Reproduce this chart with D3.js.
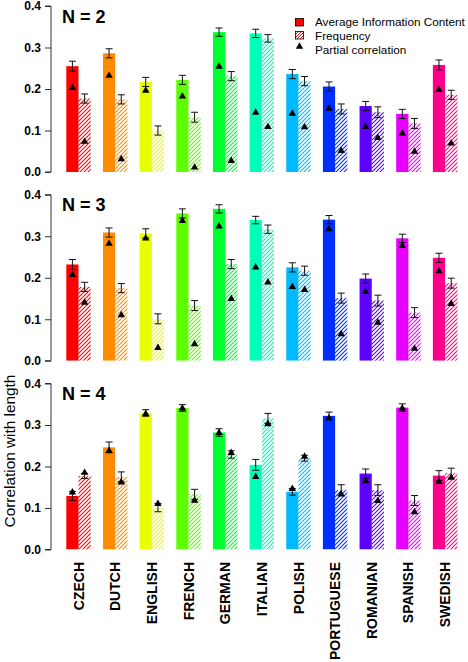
<!DOCTYPE html>
<html><head><meta charset="utf-8">
<script src="https://cdn.jsdelivr.net/npm/d3@7"></script>
<style>body{margin:0;background:#fff}svg{display:block}</style>
</head><body>
<script>
const languages = ["CZECH","DUTCH","ENGLISH","FRENCH","GERMAN","ITALIAN","POLISH","PORTUGUESE","ROMANIAN","SPANISH","SWEDISH"];
const colors = ["#FF0000","#FF8B00","#E8FF00","#5DFF00","#00FF2E","#00FFB9","#00B9FF","#002EFF","#5D00FF","#E800FF","#FF008B"];
const panelTitles = ["N = 2","N = 3","N = 4"];
const yTicks = [0, 0.1, 0.2, 0.3, 0.4];
const legendLabels = ["Average Information Content","Frequency","Partial correlation"];

// N = 2
const aic2      = [0.255,0.286,0.217,0.222,0.337,0.334,0.236,0.206,0.159,0.140,0.258];
const aicErr2   = [0.012,0.011,0.011,0.011,0.010,0.010,0.011,0.011,0.011,0.011,0.012];
const aicPart2  = [0.203,0.232,0.196,0.182,0.254,0.143,0.141,0.153,0.109,0.093,0.198];
const freq2     = [0.177,0.175,0.100,0.132,0.231,0.322,0.219,0.152,0.144,0.117,0.186];
const freqErr2  = [0.011,0.011,0.011,0.012,0.011,0.009,0.011,0.012,0.013,0.012,0.011];
const freqPart2 = [0.073,0.031,-0.010,0.011,0.027,0.109,0.108,0.051,0.082,0.049,0.069];
// N = 3
const aic3      = [0.232,0.309,0.307,0.355,0.366,0.339,0.225,0.340,0.198,0.295,0.248];
const aicErr3   = [0.012,0.011,0.011,0.011,0.010,0.009,0.011,0.010,0.011,0.010,0.011];
const aicPart3  = [0.207,0.282,0.295,0.337,0.324,0.225,0.178,0.317,0.166,0.277,0.216];
const freq3     = [0.178,0.175,0.101,0.133,0.233,0.317,0.217,0.151,0.145,0.116,0.187];
const freqErr3  = [0.011,0.011,0.012,0.012,0.011,0.010,0.011,0.012,0.013,0.012,0.012];
const freqPart3 = [0.140,0.110,0.031,0.040,0.149,0.189,0.171,0.064,0.092,0.029,0.137];
// N = 4
const aic4      = [0.129,0.246,0.329,0.341,0.282,0.204,0.139,0.322,0.183,0.342,0.178];
const aicErr4   = [0.011,0.013,0.008,0.008,0.009,0.013,0.008,0.009,0.011,0.009,0.012];
const aicPart4  = [0.138,0.238,0.327,0.340,0.281,0.175,0.146,0.316,0.165,0.340,0.163];
const freq4     = [0.177,0.175,0.101,0.133,0.229,0.316,0.220,0.143,0.143,0.118,0.184];
const freqErr4  = [0.006,0.012,0.010,0.012,0.009,0.012,0.007,0.013,0.013,0.012,0.012];
const freqPart4 = [0.185,0.162,0.110,0.118,0.233,0.302,0.224,0.133,0.117,0.090,0.173];

const panels = [
  {title: panelTitles[0], aic: aic2, aicErr: aicErr2, aicPart: aicPart2, freq: freq2, freqErr: freqErr2, freqPart: freqPart2},
  {title: panelTitles[1], aic: aic3, aicErr: aicErr3, aicPart: aicPart3, freq: freq3, freqErr: freqErr3, freqPart: freqPart3},
  {title: panelTitles[2], aic: aic4, aicErr: aicErr4, aicPart: aicPart4, freq: freq4, freqErr: freqErr4, freqPart: freqPart4}
];

const W = 468, H = 662;
const svg = d3.select("body").append("svg").attr("width", W).attr("height", H)
  .style("font-family", "'Liberation Sans', Arial, sans-serif");
const defs = svg.append("defs");

colors.forEach((c, i) => {
  const p = defs.append("pattern").attr("id", "hatch" + i)
    .attr("patternUnits", "userSpaceOnUse").attr("width", 4).attr("height", 4);
  p.append("path").attr("d", "M-1,1 l2,-2 M0,4 l4,-4 M3,5 l2,-2")
    .attr("stroke", c).attr("stroke-width", 1.1).attr("fill", "none");
});
const legendHatch = defs.append("pattern").attr("id", "hatchLegend")
  .attr("patternUnits", "userSpaceOnUse").attr("width", 3).attr("height", 3);
legendHatch.append("path").attr("d", "M-1,1 l2,-2 M0,3 l3,-3 M2,4 l2,-2")
  .attr("stroke", colors[0]).attr("stroke-width", 1).attr("fill", "none");

const x = d3.scaleBand().domain(languages).range([66.3, 457.3]).paddingInner(1/3).paddingOuter(0);
const bw = x.bandwidth() / 2;
const axisX = 51;
const panelTop0 = 6, panelH = 166, panelStep = 188.75;
const tri = d3.symbol().type(d3.symbolTriangle).size(24);

panels.forEach((pd, pi) => {
  const top = panelTop0 + pi * panelStep;
  const zero = top + panelH;
  const y = d3.scaleLinear().domain([0, 0.4]).range([zero, top]);
  const g = svg.append("g");

  defs.append("clipPath").attr("id", "clip" + pi).append("rect")
    .attr("x", 55).attr("y", top - 10).attr("width", 413).attr("height", zero - top + 10);

  // y axis
  const ax = g.append("g").attr("transform", `translate(${axisX},0)`)
    .call(d3.axisLeft(y).tickValues(yTicks).tickFormat(d3.format(".1f")).tickSize(6).tickPadding(4));
  ax.select(".domain").attr("stroke", "#333").attr("d", `M-6,${y(0)}H0V${y(0.4)}H-6`);
  ax.selectAll(".tick line").attr("stroke", "#333");
  ax.selectAll(".tick text").attr("font-size", 12).attr("font-weight", "bold")
    .attr("fill", "#000").style("font-family", "'Liberation Sans', Arial, sans-serif");

  // title
  g.append("text").attr("x", 62).attr("y", top + 16.5).attr("font-size", 18)
    .attr("font-weight", "bold").text(pd.title);

  const cg = g.append("g").attr("clip-path", `url(#clip${pi})`);
  languages.forEach((lang, i) => {
    const x0 = x(lang);
    cg.append("rect").attr("x", x0).attr("y", y(pd.aic[i])).attr("width", bw)
      .attr("height", y(0) - y(pd.aic[i])).attr("fill", colors[i]);
    cg.append("rect").attr("x", x0 + bw).attr("y", y(pd.freq[i])).attr("width", bw)
      .attr("height", y(0) - y(pd.freq[i])).attr("fill", `url(#hatch${i})`);
    [[pd.aic[i], pd.aicErr[i], x0 + bw / 2], [pd.freq[i], pd.freqErr[i], x0 + 1.5 * bw]].forEach(([v, e, cx]) => {
      const eb = cg.append("g").attr("stroke", "#111").attr("stroke-width", 1);
      eb.append("line").attr("x1", cx).attr("x2", cx).attr("y1", y(v - e)).attr("y2", y(v + e));
      eb.append("line").attr("x1", cx - 3.5).attr("x2", cx + 3.5).attr("y1", y(v - e)).attr("y2", y(v - e));
      eb.append("line").attr("x1", cx - 3.5).attr("x2", cx + 3.5).attr("y1", y(v + e)).attr("y2", y(v + e));
    });
    [[pd.aicPart[i], x0 + bw / 2], [pd.freqPart[i], x0 + 1.5 * bw]].forEach(([v, cx]) => {
      cg.append("path").attr("d", tri).attr("transform", `translate(${cx},${y(v)})`).attr("fill", "#000");
    });
  });
});

// x labels
languages.forEach((lang) => {
  const cx = x(lang) + bw;
  svg.append("text").attr("transform", `translate(${cx},562) rotate(-90)`)
    .attr("text-anchor", "end").attr("dy", "0.36em").attr("font-size", 14)
    .attr("font-weight", "bold").text(lang);
});

// y title
const yt = svg.append("text").attr("transform", "translate(14.5,451) rotate(-90)")
  .attr("text-anchor", "middle").attr("font-size", 14).text("Correlation with length");
const ytl = yt.node().getComputedTextLength();
if (ytl > 0 && Math.abs(ytl - 153) > 4) yt.attr("font-size", 14 * 153 / ytl);

// legend
const lg = svg.append("g");
lg.append("rect").attr("x", 295.5).attr("y", 18.5).attr("width", 8).attr("height", 7.5)
  .attr("fill", colors[0]).attr("stroke", "#000").attr("stroke-width", 0.8);
lg.append("rect").attr("x", 295.5).attr("y", 31.5).attr("width", 8).attr("height", 7.5)
  .attr("fill", "url(#hatchLegend)").attr("stroke", "#000").attr("stroke-width", 0.8);
lg.append("path").attr("d", tri).attr("transform", "translate(299.5,46.5)").attr("fill", "#000");
let legendFont = 12;
const lt0 = lg.append("text").attr("x", 315).attr("y", 26).attr("font-size", legendFont).text(legendLabels[0]);
const l0 = lt0.node().getComputedTextLength();
if (l0 > 150) legendFont = 12 * 150 / l0;
lt0.attr("font-size", legendFont);
legendLabels.slice(1).forEach((t, i) => {
  lg.append("text").attr("x", 315).attr("y", 40 + i * 14).attr("font-size", legendFont).text(t);
});
</script>
</body></html>
